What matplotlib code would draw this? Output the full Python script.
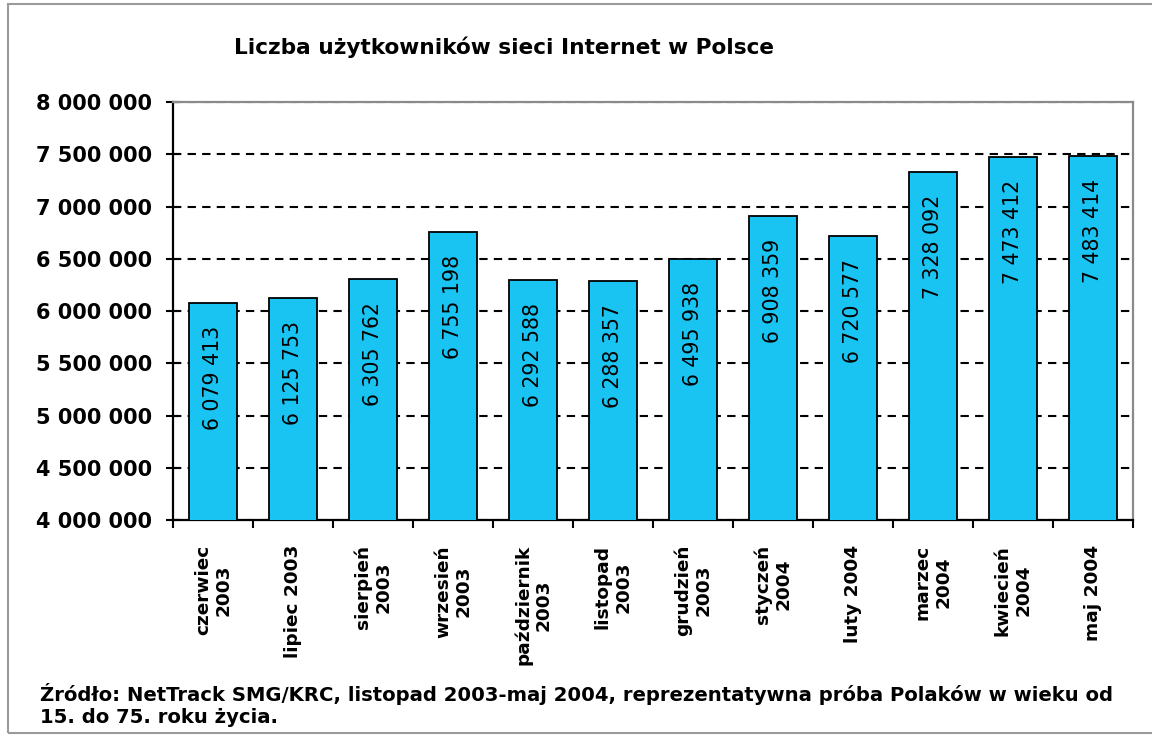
import matplotlib
matplotlib.use("Agg")
import matplotlib.pyplot as plt
from matplotlib.patches import Rectangle
from matplotlib.ticker import FuncFormatter, MultipleLocator

# ---- data ----
categories = ["czerwiec\n2003", "lipiec 2003", "sierpień\n2003", "wrzesień\n2003",
              "październik\n2003", "listopad\n2003", "grudzień\n2003", "styczeń\n2004",
              "luty 2004", "marzec\n2004", "kwiecień\n2004", "maj 2004"]
values = [6079413, 6125753, 6305762, 6755198, 6292588, 6288357,
          6495938, 6908359, 6720577, 7328092, 7473412, 7483414]
title = "Liczba użytkowników sieci Internet w Polsce"
source = ("Źródło: NetTrack SMG/KRC, listopad 2003-maj 2004, reprezentatywna próba Polaków w wieku od\n"
          "15. do 75. roku życia.")
y_min, y_max, y_step = 4000000, 8000000, 500000

def fmt(v):
    return f"{int(round(v)):,}".replace(",", " ")

plt.rcParams['font.family'] = ['DejaVu Sans']

W, H = 1152, 744
fig = plt.figure(figsize=(W / 100, H / 100), dpi=100)
fig.patch.set_facecolor("white")

# outer frame
fig.patches.append(Rectangle((8 / W, 1 - 733 / H), 1.2, (733 - 4) / H,
                             transform=fig.transFigure, fill=False,
                             edgecolor="#9a9a9a", linewidth=1.5))

ax = fig.add_axes([173 / W, 1 - 520 / H, (1133 - 173) / W, (520 - 102) / H])
x = list(range(len(values)))
bars = ax.bar(x, values, width=0.59, color="#19C4F3", edgecolor="black",
              linewidth=1.3, zorder=3)

ax.set_ylim(y_min, y_max)
ax.set_xlim(-0.5, len(values) - 0.5)
ax.yaxis.set_major_locator(MultipleLocator(y_step))
ax.yaxis.set_major_formatter(FuncFormatter(lambda v, p: fmt(v)))
ax.grid(axis="y", color="black", linestyle=(0, (4, 3)), linewidth=1.5, zorder=1)

# x ticks at category boundaries, labels at centers
ax.set_xticks([i - 0.5 for i in range(len(values) + 1)])
ax.set_xticklabels([])
ax.set_xticks(x, minor=True)
ax.set_xticklabels(categories, minor=True, rotation=90, va="top", ha="center",
                   multialignment="center", fontsize=13.3, fontweight="bold",
                   linespacing=1.15)
ax.tick_params(axis="x", which="minor", length=0, pad=18)
ax.tick_params(axis="x", which="major", direction="out", length=6, width=1.5)
ax.tick_params(axis="y", direction="inout", length=10, width=1.5, pad=10,
               labelsize=15)
for lab in ax.get_yticklabels():
    lab.set_fontweight("bold")

for s in ("left", "bottom"):
    ax.spines[s].set_color("black")
    ax.spines[s].set_linewidth(1.6)
for s in ("top", "right"):
    ax.spines[s].set_color("#8a8a8a")
    ax.spines[s].set_linewidth(1.6)

for xi, v in zip(x, values):
    ax.annotate(fmt(v), (xi, v), xytext=(0, -16.5), textcoords="offset points",
                rotation=90, ha="center", va="top", fontsize=14.8, zorder=4)

fig.text(504 / W, 1 - 47 / H, title, ha="center", va="center",
         fontsize=15.6, fontweight="bold")
fig.text(40 / W, 1 - 705 / H, source, ha="left", va="center",
         fontsize=14.1, fontweight="bold", linespacing=1.25)

fig.savefig("out.png", dpi=100)
